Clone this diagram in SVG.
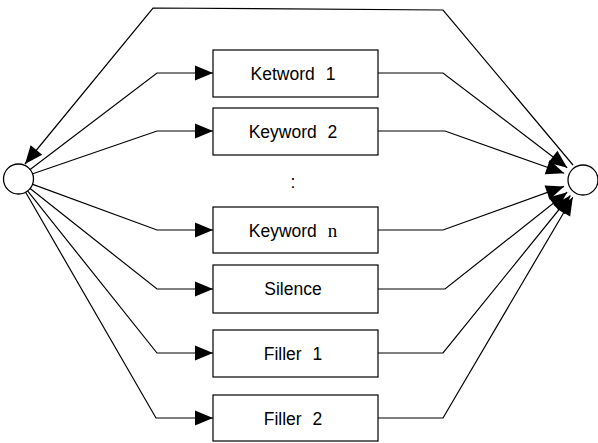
<svg xmlns="http://www.w3.org/2000/svg" width="598" height="443" viewBox="0 0 598 443">
  <defs>
    <marker id="arrow" markerUnits="userSpaceOnUse" markerWidth="20" markerHeight="16" refX="18" refY="7.5" orient="auto" overflow="visible">
      <path d="M0,0 L18,7.5 L0,15 z" fill="#000"/>
    </marker>
    <style>
      .box { fill: #fff; stroke: #000; stroke-width: 1.2; }
      .state { fill: #fff; stroke: #000; stroke-width: 1.3; }
      .edge { fill: none; stroke: #000; stroke-width: 1.2; }
      .arr { marker-end: url(#arrow); }
      .label { font-family: "Liberation Sans", Arial, sans-serif; font-size: 17.5px; fill: #000; text-anchor: middle; }
      .serif { font-family: "Liberation Serif", "Times New Roman", serif; font-size: 19px; }
    </style>
  </defs>

  <rect width="598" height="443" fill="#fff"/>

  <!-- connectors -->
  <g id="connectors">
    <!-- loop back from end state to start state -->
    <polyline class="edge arr" points="573,165 443,10 153,8 25,164"/>
    <!-- start state to each model -->
    <polyline class="edge arr" points="29.8,169.8 157,73 213,73"/>
    <polyline class="edge arr" points="32.1,174 157,131 213,131"/>
    <polyline class="edge arr" points="32.1,184.1 157,230 213,230"/>
    <polyline class="edge arr" points="29.8,188.3 157,289 213,289"/>
    <polyline class="edge arr" points="27.4,190.7 157,353 213,353"/>
    <polyline class="edge arr" points="25.5,192 156,418 213,418"/>
    <!-- each model to end state -->
    <polyline class="edge arr" points="378,73 443,73 567.2,167.7"/>
    <polyline class="edge arr" points="378,131 445,131 564.2,173.2"/>
    <polyline class="edge arr" points="378,230 443,230 564,186.4"/>
    <polyline class="edge arr" points="378,289 445,289 567.2,192.3"/>
    <polyline class="edge arr" points="378,353 443,353 570.4,195.5"/>
    <polyline class="edge arr" points="378,418 443,418 572.8,197.2"/>
  </g>

  <g id="start">
    <circle class="state" cx="18.5" cy="179" r="15"/>
  </g>
  <g id="end">
    <circle class="state" cx="583" cy="180" r="15"/>
  </g>

  <g id="keyword1">
    <rect class="box" x="213" y="50" width="165" height="47"/>
    <text class="label" x="293" y="80" word-spacing="6">Ketword 1</text>
  </g>
  <g id="keyword2">
    <rect class="box" x="213" y="108" width="165" height="47"/>
    <text class="label" x="293" y="138" word-spacing="6">Keyword 2</text>
  </g>
  <g id="ellipsis">
    <text class="label" x="293" y="188">:</text>
  </g>
  <g id="keywordn">
    <rect class="box" x="213" y="207" width="165" height="46"/>
    <text class="label" x="293" y="237" word-spacing="6">Keyword <tspan class="serif">n</tspan></text>
  </g>
  <g id="silence">
    <rect class="box" x="213" y="265" width="165" height="48"/>
    <text class="label" x="293" y="295">Silence</text>
  </g>
  <g id="filler1">
    <rect class="box" x="213" y="330" width="165" height="47"/>
    <text class="label" x="293" y="360" word-spacing="6">Filler 1</text>
  </g>
  <g id="filler2">
    <rect class="box" x="213" y="395" width="165" height="46"/>
    <text class="label" x="293" y="425" word-spacing="6">Filler 2</text>
  </g>
</svg>
